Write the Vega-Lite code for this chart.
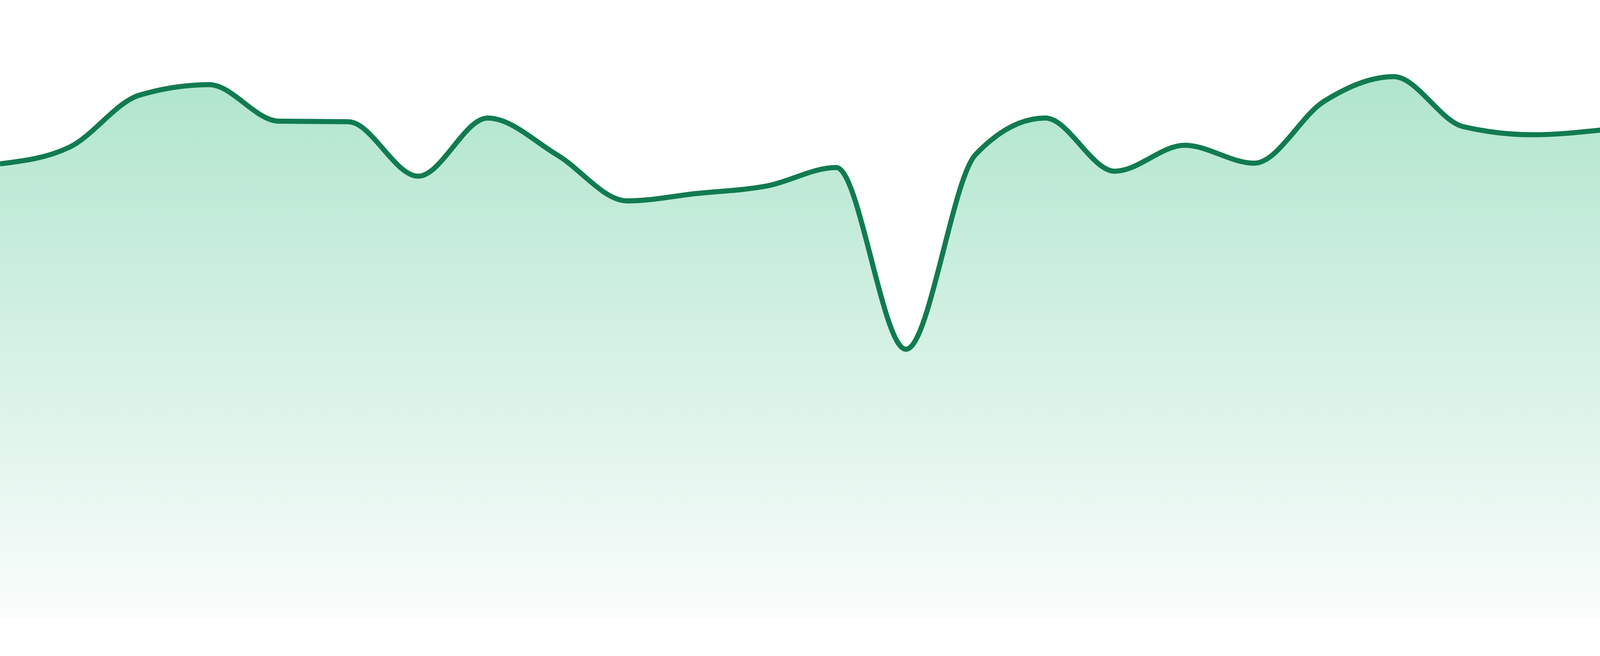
{
  "$schema": "https://vega.github.io/schema/vega-lite/v6.json",
  "width": 4103,
  "height": 1583,
  "padding": {"left": 0, "right": 0, "top": 0, "bottom": 47},
  "autosize": {"type": "none"},
  "background": "white",
  "data": {
    "values": [
      {"i": 0, "v": 73.5},
      {"i": 1, "v": 76.2},
      {"i": 2, "v": 84.6},
      {"i": 3, "v": 86.3},
      {"i": 4, "v": 80.4},
      {"i": 5, "v": 80.3},
      {"i": 6, "v": 71.5},
      {"i": 7, "v": 80.9},
      {"i": 8, "v": 74.9},
      {"i": 9, "v": 67.5},
      {"i": 10, "v": 68.7},
      {"i": 11, "v": 69.9},
      {"i": 12, "v": 72.9},
      {"i": 13, "v": 43.5},
      {"i": 14, "v": 75.0},
      {"i": 15, "v": 80.9},
      {"i": 16, "v": 72.3},
      {"i": 17, "v": 76.5},
      {"i": 18, "v": 73.6},
      {"i": 19, "v": 83.6},
      {"i": 20, "v": 87.6},
      {"i": 21, "v": 79.5},
      {"i": 22, "v": 78.2},
      {"i": 23, "v": 79.0}
    ]
  },
  "encoding": {
    "x": {
      "field": "i",
      "type": "quantitative",
      "scale": {"domain": [0, 23], "nice": false, "zero": false},
      "axis": null
    },
    "y": {
      "field": "v",
      "type": "quantitative",
      "scale": {"domain": [0, 100], "nice": false},
      "axis": null
    }
  },
  "layer": [
    {
      "mark": {
        "type": "area",
        "interpolate": "monotone",
        "fill": {
          "gradient": "linear",
          "x1": 0, "y1": 0, "x2": 0, "y2": 1,
          "stops": [
            {"offset": 0, "color": "#b0e5cd"},
            {"offset": 1, "color": "#fafdfc"}
          ]
        }
      }
    },
    {
      "mark": {
        "type": "line",
        "interpolate": "monotone",
        "stroke": "#117b50",
        "strokeWidth": 13
      }
    }
  ],
  "config": {
    "view": {"stroke": null}
  }
}
